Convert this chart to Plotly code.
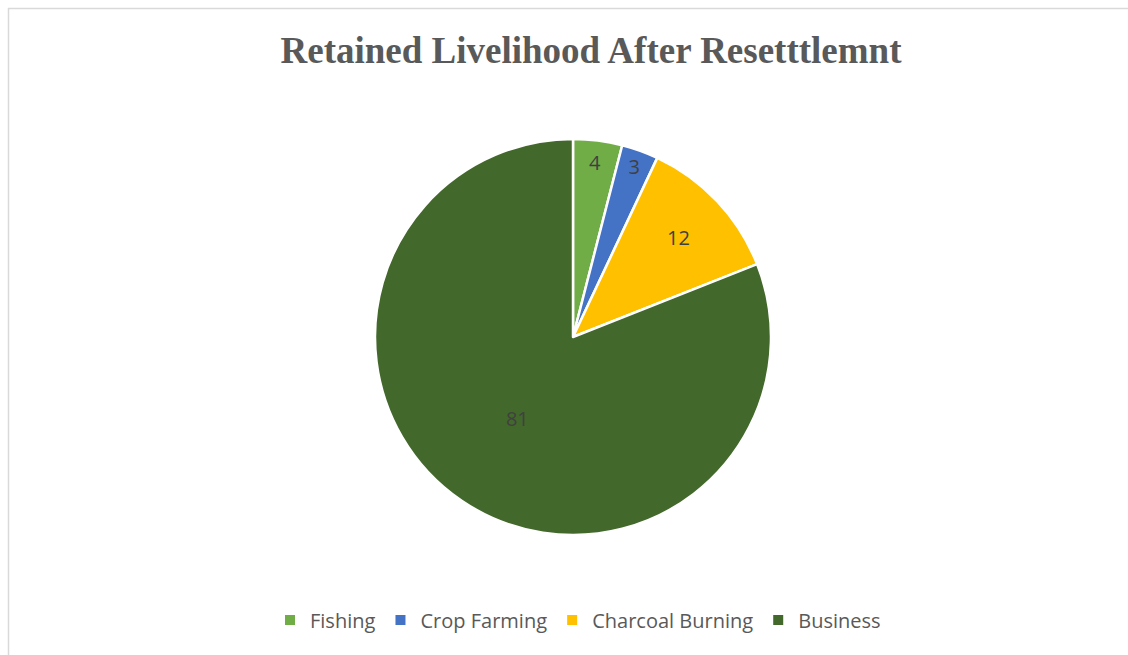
import plotly.graph_objects as go

labels = ["Fishing", "Crop Farming", "Charcoal Burning", "Business"]
values = [4, 3, 12, 81]
colors = ["#70AD47", "#4472C4", "#FFC000", "#43682B"]

W, H = 1128, 655
cx0, cx1 = 375, 771
cy0, cy1 = 139, 535

fig = go.Figure(go.Pie(
    labels=labels,
    values=values,
    sort=False,
    direction="clockwise",
    rotation=0,
    marker=dict(colors=colors, line=dict(color="white", width=2.5)),
    textinfo="value",
    textposition="inside",
    insidetextorientation="horizontal",
    textfont=dict(family="Open Sans", size=20, color="#404040"),
    domain=dict(x=[cx0 / W, cx1 / W], y=[1 - cy1 / H, 1 - cy0 / H]),
    hoverinfo="label+value",
))

fig.update_layout(
    width=W, height=H,
    margin=dict(l=0, r=0, t=0, b=0),
    paper_bgcolor="white",
    title=dict(
        text="<b>Retained Livelihood After Resetttlemnt</b>",
        font=dict(family="Liberation Serif", size=37, color="#595959"),
        x=591 / W, xanchor="center", y=1 - 50 / H, yanchor="middle",
    ),
    legend=dict(
        orientation="h",
        x=578 / W, xanchor="center",
        y=1 - 620 / H, yanchor="middle",
        font=dict(family="Open Sans", size=20, color="#595959"),
        itemsizing="constant",
        itemwidth=30,
        traceorder="normal",
    ),
    shapes=[dict(type="rect", xref="paper", yref="paper",
                 x0=8.5 / W, x1=1.02, y0=-0.02, y1=1 - 8.5 / H,
                 line=dict(color="#D9D9D9", width=1.5), layer="below")],
)

fig.write_html("out.html")
